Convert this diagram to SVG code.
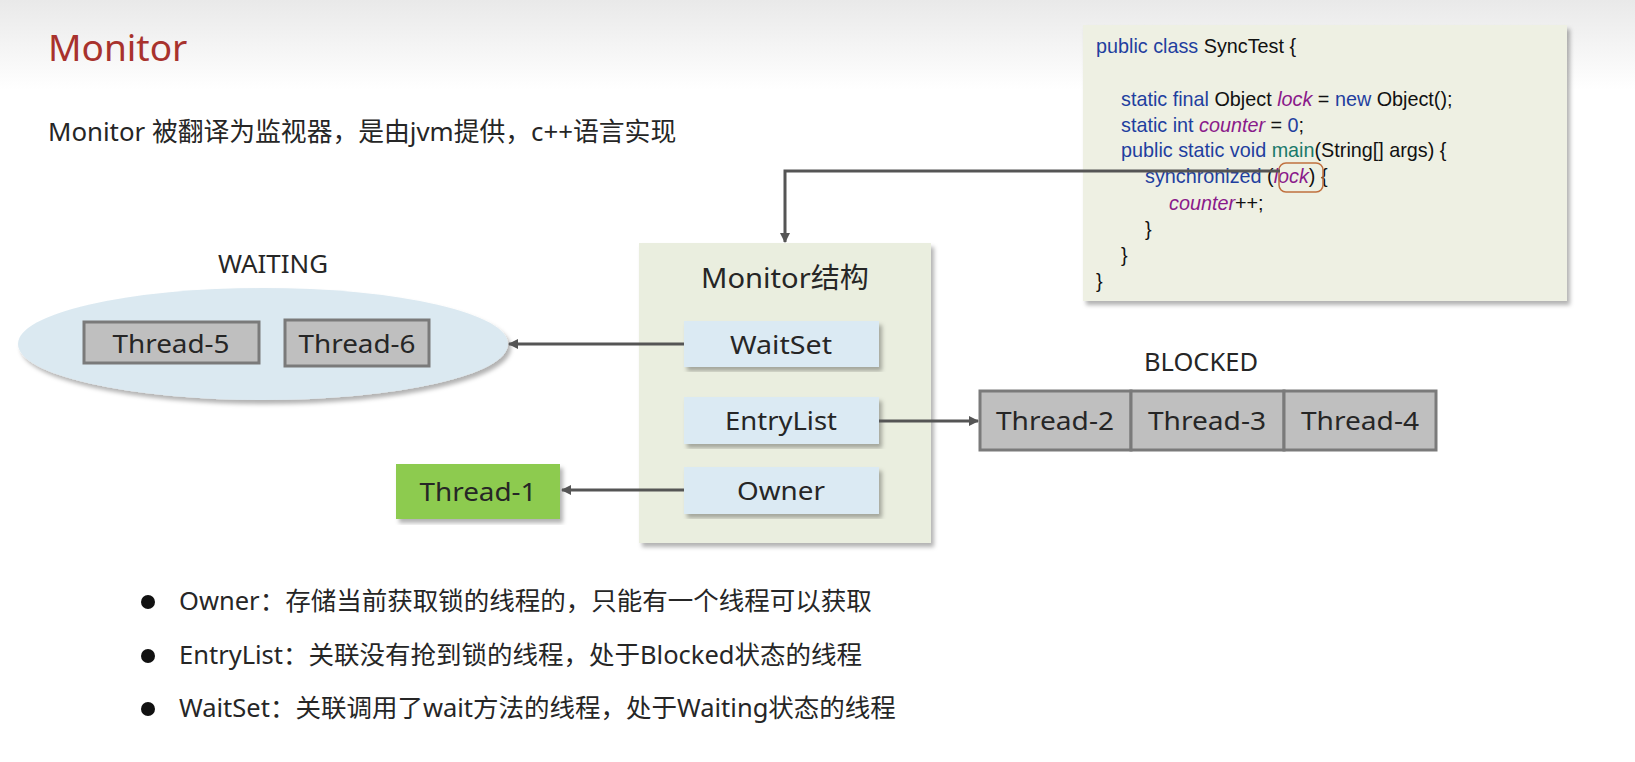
<svg xmlns="http://www.w3.org/2000/svg" width="1635" height="762" viewBox="0 0 1635 762">
<style>
.t{font-family:"Noto Sans","Noto Sans CJK SC",sans-serif;fill:#262626}
.c{font-family:"Liberation Sans",Arial,sans-serif;font-size:19.8px;fill:#111}
.k{fill:#1f3f9f}.v{fill:#8a1a8a;font-style:italic}
.gray{fill:#bfbfbf;stroke:#7a7a7a;stroke-width:3}
.blue{fill:#dbeaf3}
.ln{stroke:#555;stroke-width:3;fill:none;marker-end:url(#a)}
</style>
<defs>
<linearGradient id="bg" x1="0" y1="0" x2="0" y2="1"><stop offset="0" stop-color="#e9e9e9"/><stop offset="1" stop-color="#fff"/></linearGradient>
<marker id="a" markerWidth="10" markerHeight="10" refX="9" refY="5" orient="auto" markerUnits="userSpaceOnUse"><path d="M0,0 L10,5 L0,10 Z" fill="#555"/></marker>
<filter id="sh" x="-5%" y="-5%" width="115%" height="115%"><feDropShadow dx="3" dy="4" stdDeviation="2" flood-color="#000" flood-opacity="0.3"/></filter>
</defs>
<rect width="1635" height="762" fill="#fff"/>
<rect width="1635" height="90" fill="url(#bg)"/>
<text x="48" y="61" font-family="Noto Sans,sans-serif" font-size="37" fill="#a8322d">Monitor</text>
<text x="48" y="141" class="t" font-size="25.8">Monitor 被翻译为监视器，是由jvm提供，c++语言实现</text>

<g id="code">
<rect x="1083" y="25" width="484" height="276" fill="#eef0e3" filter="url(#sh)"/>
<text class="c" x="1096" y="53"><tspan class="k">public class</tspan> SyncTest {</text>
<text class="c" x="1121" y="106"><tspan class="k">static final</tspan> Object <tspan class="v">lock</tspan> = <tspan class="k">new</tspan> Object();</text>
<text class="c" x="1121" y="132"><tspan class="k">static int</tspan> <tspan class="v">counter</tspan> = <tspan class="k">0</tspan>;</text>
<text class="c" x="1121" y="157"><tspan class="k">public static void</tspan> <tspan fill="#1a7a6a">main</tspan>(String[] args) {</text>
<text class="c" x="1145" y="183"><tspan class="k">synchronized</tspan> (<tspan class="v">lock</tspan>) {</text>
<text class="c" x="1169" y="210"><tspan class="v">counter</tspan>++;</text>
<text class="c" x="1145" y="236">}</text>
<text class="c" x="1121" y="262">}</text>
<text class="c" x="1096" y="288">}</text>
<rect x="1279" y="163" width="44" height="29" rx="7" fill="none" stroke="#c0703f" stroke-width="1.5"/>
</g>

<g id="waiting">
<text class="t" x="273" y="273" font-size="25" text-anchor="middle" textLength="110" lengthAdjust="spacingAndGlyphs">WAITING</text>
<ellipse cx="263" cy="344" rx="245" ry="56" fill="#dbe9f1" filter="url(#sh)"/>
<rect class="gray" x="84" y="322" width="175" height="41"/>
<text class="t" x="171" y="353" font-size="26" text-anchor="middle" textLength="117" lengthAdjust="spacingAndGlyphs">Thread-5</text>
<rect class="gray" x="285" y="320" width="144" height="46"/>
<text class="t" x="357" y="353" font-size="26" text-anchor="middle" textLength="117" lengthAdjust="spacingAndGlyphs">Thread-6</text>
</g>

<g id="monitor">
<rect x="639" y="243" width="292" height="300" fill="#eaeedf" filter="url(#sh)"/>
<text class="t" x="785" y="288" font-size="28" text-anchor="middle" textLength="168" lengthAdjust="spacingAndGlyphs">Monitor结构</text>
</g>
<g id="waitset"><rect class="blue" x="684" y="321" width="195" height="46" filter="url(#sh)"/><text class="t" x="781" y="354" font-size="26" text-anchor="middle" textLength="102" lengthAdjust="spacingAndGlyphs">WaitSet</text></g>
<g id="entrylist"><rect class="blue" x="684" y="397" width="195" height="47" filter="url(#sh)"/><text class="t" x="781" y="430" font-size="26" text-anchor="middle" textLength="112" lengthAdjust="spacingAndGlyphs">EntryList</text></g>
<g id="owner"><rect class="blue" x="684" y="467" width="195" height="47" filter="url(#sh)"/><text class="t" x="781" y="500" font-size="26" text-anchor="middle" textLength="88" lengthAdjust="spacingAndGlyphs">Owner</text></g>

<g id="thread1"><rect x="396" y="464" width="164" height="55" fill="#8dcb4f" filter="url(#sh)"/><text class="t" x="478" y="501" font-size="26" text-anchor="middle" textLength="117" lengthAdjust="spacingAndGlyphs">Thread-1</text></g>

<g id="blocked">
<text class="t" x="1201" y="371" font-size="25" text-anchor="middle" textLength="114" lengthAdjust="spacingAndGlyphs">BLOCKED</text>
<rect class="gray" x="980" y="391" width="151" height="59"/>
<rect class="gray" x="1131" y="391" width="153" height="59"/>
<rect class="gray" x="1284" y="391" width="152" height="59"/>
<text class="t" x="1055" y="430" font-size="26" text-anchor="middle" textLength="118" lengthAdjust="spacingAndGlyphs">Thread-2</text>
<text class="t" x="1207" y="430" font-size="26" text-anchor="middle" textLength="118" lengthAdjust="spacingAndGlyphs">Thread-3</text>
<text class="t" x="1360" y="430" font-size="26" text-anchor="middle" textLength="118" lengthAdjust="spacingAndGlyphs">Thread-4</text>
</g>

<g id="connectors">
<path class="ln" d="M1280,171 H785 V242"/>
<path class="ln" d="M684,344 H509"/>
<path class="ln" d="M879,421 H978"/>
<path class="ln" d="M684,490 H562"/>
</g>

<g id="notes" class="t" font-size="25.5">
<circle cx="148" cy="602" r="7" fill="#111"/>
<text x="179" y="610">Owner：存储当前获取锁的线程的，只能有一个线程可以获取</text>
<circle cx="148" cy="656" r="7" fill="#111"/>
<text x="179" y="664">EntryList：关联没有抢到锁的线程，处于Blocked状态的线程</text>
<circle cx="148" cy="709" r="7" fill="#111"/>
<text x="179" y="717">WaitSet：关联调用了wait方法的线程，处于Waiting状态的线程</text>
</g>
</svg>
